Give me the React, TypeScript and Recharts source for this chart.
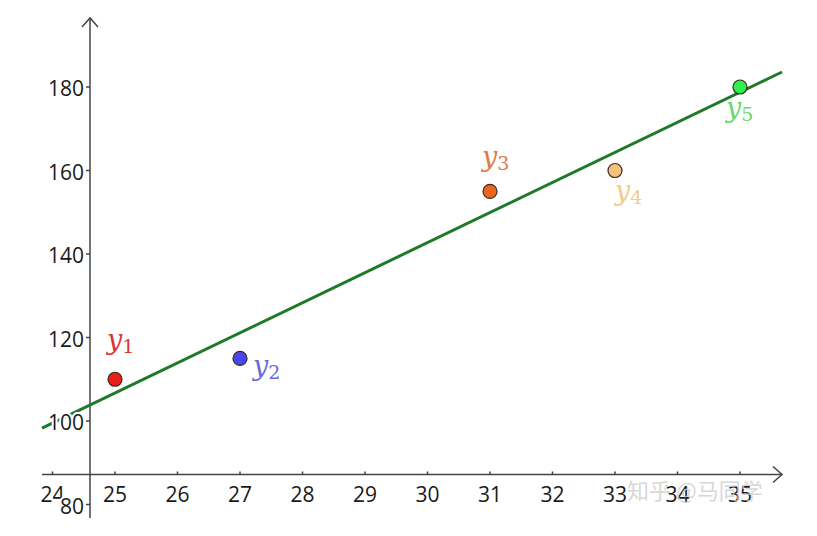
import React from "react";
import { ScatterChart, Scatter, XAxis, YAxis, ReferenceLine, ReferenceDot } from "recharts";

// sample points y1..y5
const xValues = [25, 27, 31, 33, 35];
const yValues = [110, 115, 155, 160, 180];
const pointIds = ["1", "2", "3", "4", "5"];

// fitted line, ends
const fitLine = [
  { x: 23.832, y: 98.3 },
  { x: 35.672, y: 183.6 },
];

const xTicks = [24, 25, 26, 27, 28, 29, 30, 31, 32, 33, 34, 35];
const yTicks = [80, 100, 120, 140, 160, 180];

const xDomain = [23.832, 35.672];
const yDomain = [76.77, 196.53];
// where the two axes cross (x value of y-axis, y value of x-axis)
const yAxisAtX = 24.6;
const xAxisAtY = 87.2;

const pointFill = ["#ea1f1a", "#4848f2", "#ee661e", "#f4c27a", "#2ef04c"];
const labelColor = ["#dc3434", "#6a6ade", "#e07a42", "#f0cc8a", "#6cd86c"];
const labelOffset = [
  [-8, -30],
  [13, 17],
  [-8, -25],
  [0, 29],
  [-14, 30],
];

const data = xValues.map((x, i) => ({ x, y: yValues[i], id: pointIds[i], idx: i }));

const AXIS_COLOR = "#444";
const TICK_FONT = "'Open Sans', Roboto, sans-serif";

function ArrowLine(props: any) {
  const { x1, y1, x2, y2 } = props;
  const dx = x2 - x1;
  const dy = y2 - y1;
  const len = Math.hypot(dx, dy) || 1;
  const ux = dx / len;
  const uy = dy / len;
  const back = 9;
  const side = 8;
  const ax = x2 - ux * back;
  const ay = y2 - uy * back;
  return (
    <g stroke={AXIS_COLOR} strokeWidth={1.5} fill="none">
      <line x1={x1} y1={y1} x2={x2} y2={y2} />
      <polyline
        points={`${ax - uy * side},${ay + ux * side} ${x2},${y2} ${ax + uy * side},${ay - ux * side}`}
      />
    </g>
  );
}

function FitShape(props: any) {
  const { x1, y1, x2, y2 } = props;
  return <line x1={x1} y1={y1} x2={x2} y2={y2} stroke="#1f7a27" strokeWidth={3} />;
}

const xTickShape = (label: number) => (props: any) => {
  const { cx, cy } = props;
  return (
    <g>
      <line x1={cx} y1={cy} x2={cx} y2={cy - 3} stroke={AXIS_COLOR} strokeWidth={1.5} />
      <text
        x={cx}
        y={cy + 20}
        textAnchor="middle"
        dominantBaseline="central"
        fontFamily={TICK_FONT}
        fontSize={21}
        fill="#1a1a1a"
      >
        {label}
      </text>
    </g>
  );
};

const yTickShape = (label: number) => (props: any) => {
  const { cx, cy } = props;
  return (
    <g>
      <line x1={cx} y1={cy} x2={cx - 4} y2={cy} stroke={AXIS_COLOR} strokeWidth={1.5} />
      <text
        x={cx - 6}
        y={cy + 1}
        textAnchor="end"
        dominantBaseline="central"
        fontFamily={TICK_FONT}
        fontSize={21}
        fill="#1a1a1a"
        stroke="#fff"
        strokeWidth={4}
        paintOrder="stroke"
      >
        {label}
      </text>
    </g>
  );
};

function PointShape(props: any) {
  const { cx, cy, payload } = props;
  const i = payload.idx;
  const [dx, dy] = labelOffset[i];
  return (
    <g>
      <circle cx={cx} cy={cy} r={7} fill={pointFill[i]} stroke="#3a2a20" strokeWidth={1.2} />
      <text x={cx + dx} y={cy + dy} fill={labelColor[i]} fontFamily="'DejaVu Serif', serif" fontSize={27}>
        <tspan fontStyle="italic">y</tspan>
        <tspan fontSize={19} dy={4}>
          {payload.id}
        </tspan>
      </text>
    </g>
  );
}

export default function App() {
  return (
    <div style={{ position: "relative", width: 809, height: 528, background: "#fff" }}>
      <ScatterChart width={809} height={528} margin={{ top: 10, right: 35, bottom: 18, left: 34 }}>
        <XAxis type="number" dataKey="x" domain={xDomain} allowDataOverflow hide />
        <YAxis type="number" dataKey="y" domain={yDomain} allowDataOverflow hide />

        {/* axes drawn where they cross, with arrow tips */}
        <ReferenceLine
          ifOverflow="visible"
          segment={[
            { x: xDomain[0], y: xAxisAtY },
            { x: xDomain[1], y: xAxisAtY },
          ]}
          shape={ArrowLine}
        />
        <ReferenceLine
          ifOverflow="visible"
          segment={[
            { x: yAxisAtX, y: yDomain[0] },
            { x: yAxisAtX, y: yDomain[1] },
          ]}
          shape={ArrowLine}
        />

        {xTicks.map((t) => (
          <ReferenceDot key={"xt" + t} x={t} y={xAxisAtY} ifOverflow="visible" shape={xTickShape(t)} />
        ))}
        {yTicks.map((t) => (
          <ReferenceDot key={"yt" + t} x={yAxisAtX} y={t} ifOverflow="visible" shape={yTickShape(t)} />
        ))}

        <ReferenceLine ifOverflow="visible" segment={fitLine} shape={FitShape} />

        <Scatter data={data} shape={PointShape} isAnimationActive={false} />
      </ScatterChart>
      <div
        style={{
          position: "absolute",
          left: 619,
          top: 465,
          fontFamily: "'Noto Sans CJK SC', sans-serif",
          fontSize: 22,
          color: "rgba(205,205,205,0.8)",
          whiteSpace: "nowrap",
        }}
      >
        知乎 @马同学
      </div>
    </div>
  );
}
